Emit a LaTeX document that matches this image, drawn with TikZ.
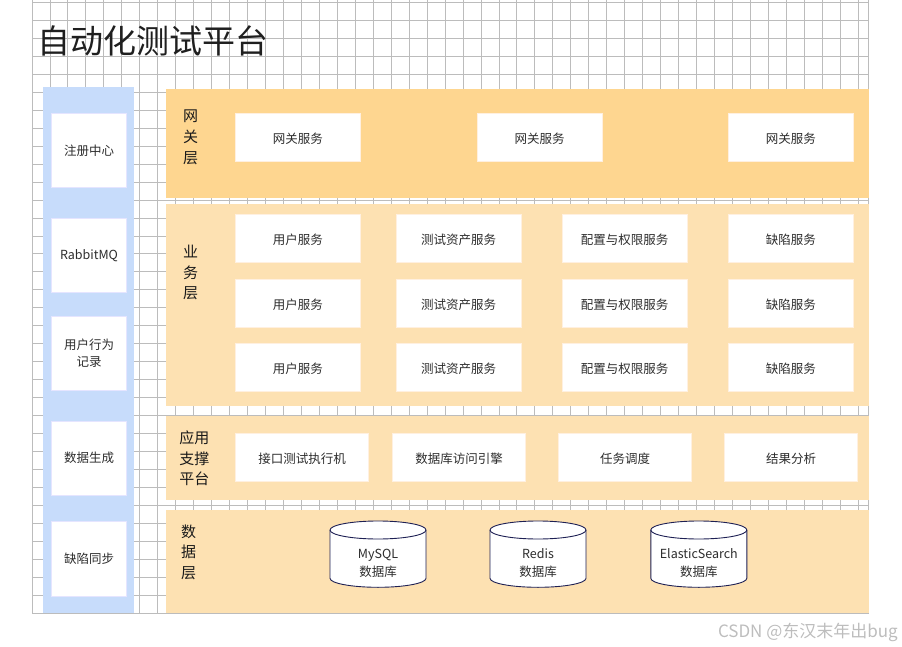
\documentclass[tikz,border=0pt]{standalone}
\usepackage{fontspec}
\setmainfont{Noto Sans CJK SC}
\usepackage{tikz}
\usetikzlibrary{positioning}

\definecolor{gridgray}{RGB}{188,188,188}
\definecolor{sideblue}{RGB}{199,220,251}
\definecolor{gwband}{RGB}{254,214,144}
\definecolor{layerband}{RGB}{253,225,178}
\definecolor{cylnavy}{RGB}{30,32,84}
\definecolor{inktext}{RGB}{45,45,45}

\begin{document}
\begin{tikzpicture}[x=1pt, y=-1pt,
  gridline/.style={gridgray, line width=0.9pt},
  band/.style={anchor=north west, inner sep=0pt, outer sep=0pt},
  svc/.style={draw=white!88!orange, fill=white, line width=0.6pt, inner sep=0pt,
    minimum width=125, minimum height=48, text=inktext,
    text height=12.5pt, text depth=0pt,
    font=\fontsize{12.5}{16}\selectfont},
  appsvc/.style={svc, minimum width=133},
  sidebox/.style={draw=white!90!blue, fill=white, line width=0.6pt, inner sep=0pt,
    minimum width=75.4, minimum height=74.5, text=inktext,
    align=center, font=\fontsize{12.5}{17}\selectfont},
  layerlabel/.style={align=center, inner sep=0pt, text=black!90,
    font=\fontsize{15}{20.8}\selectfont},
  dbline/.style={draw=cylnavy, line width=0.9pt, fill=white},
  dbtext/.style={align=center, inner sep=0pt, text=inktext,
    font=\fontsize{12.5}{17.5}\selectfont}]
  \useasboundingbox (0,0) rectangle (902,647);
  % grid paper
  \foreach \i in {0,...,46}
    \draw[gridline] ({32+17.96*\i},0) -- ({32+17.96*\i},612.8);
  \foreach \j in {0,...,34}
    \draw[gridline] (32,{2.5+17.96*\j}) -- (868.7,{2.5+17.96*\j});
  \draw[gridline] (868.7,0) -- (868.7,612.8);

  % title
  \node[anchor=west, inner sep=0pt, text=black!88, font=\fontsize{33}{36}\selectfont]
    (title) at (37.5,41) {自动化测试平台};

  % left column
  \node[band, fill=sideblue, minimum width=90.7, minimum height=526] (sidebar) at (43.3,86.7) {};
  \node[sidebox] (registry) at (89,150.3) {注册中心};
  \node[sidebox] (mq) at (89,255.2) {RabbitMQ};
  \node[sidebox] (behavior) at (89,353.5) {用户行为\\记录};
  \node[sidebox] (datagen) at (89,458.2) {数据生成};
  \node[sidebox] (defsync) at (89,559) {缺陷同步};

  % gateway layer
  \node[band, fill=gwband, minimum width=702.7, minimum height=108.5] (gwlayer) at (166,89.3) {};
  \node[layerlabel] (gwlabel) at (190.7,137.5) {网\\关\\层};
  \node[svc] (gw1) at (297.8,137.2) {网关服务};
  \node[svc] (gw2) at (539.5,137.2) {网关服务};
  \node[svc] (gw3) at (790.8,137.2) {网关服务};

  % business layer
  \node[band, fill=layerband, minimum width=702.7, minimum height=202] (bizlayer) at (166,204) {};
  \node[layerlabel] (bizlabel) at (190.7,272.5) {业\\务\\层};
  \foreach \r/\ry in {1/238.5, 2/302.8, 3/366.8} {
    \node[svc] (user\r) at (297.8,\ry) {用户服务};
    \node[svc] (asset\r) at (458.5,\ry) {测试资产服务};
    \node[svc] (perm\r) at (624.5,\ry) {配置与权限服务};
    \node[svc] (defect\r) at (790.8,\ry) {缺陷服务};
  }

  % application support platform
  \node[band, fill=layerband, minimum width=702.7, minimum height=83.5] (applayer) at (166,416) {};
  \node[layerlabel] (applabel) at (194.3,458.3) {应用\\支撑\\平台};
  \node[appsvc] (runner) at (302,457.2) {接口测试执行机};
  \node[appsvc] (dbengine) at (459,457.2) {数据库访问引擎};
  \node[appsvc] (sched) at (625,457.2) {任务调度};
  \node[appsvc] (result) at (791,457.2) {结果分析};

  % data layer
  \node[band, fill=layerband, minimum width=702.7, minimum height=102.8] (datalayer) at (166,510) {};
  \node[layerlabel] (datalabel) at (188.5,552.3) {数\\据\\层};
  \foreach \nm/\cx/\lab in {mysql/378/MySQL, redis/538/Redis, es/698.8/ElasticSearch} {
    \draw[dbline] (\cx-48,530) -- (\cx-48,578.3)
      arc[start angle=180, end angle=360, x radius=48pt, y radius=9pt]
      -- (\cx+48,530)
      arc[start angle=0, end angle=180, x radius=48pt, y radius=9pt] -- cycle;
    \draw[dbline, fill=none] (\cx-48,530)
      arc[start angle=180, end angle=360, x radius=48pt, y radius=9pt];
    \node[dbtext] (\nm) at (\cx,563.3) {\lab\\数据库};
  }

  % watermark
  \node[anchor=east, inner sep=0pt, text=black!26, font=\fontsize{17}{20}\selectfont]
    (mark) at (898,632.5) {CSDN @东汉末年出bug};
\end{tikzpicture}
\end{document}
